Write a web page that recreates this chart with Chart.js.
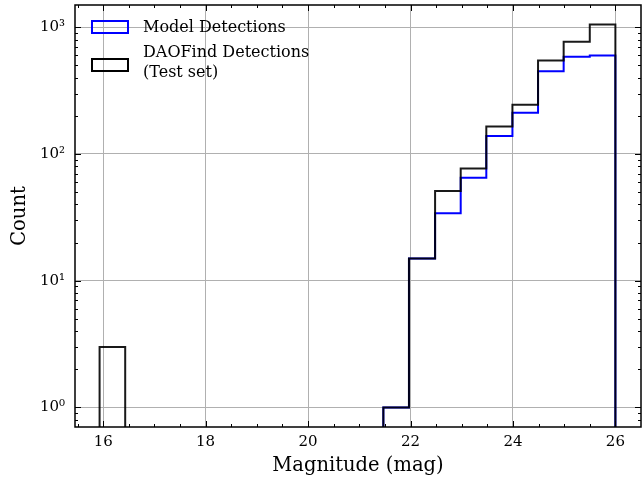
<!DOCTYPE html>
<html>
<head>
<meta charset="utf-8">
<script src="https://cdn.jsdelivr.net/npm/chart.js@4.4.0/dist/chart.umd.min.js"></script>
<style>
  html, body { margin: 0; padding: 0; background: #fff; }
  canvas { display: block; }
</style>
</head>
<body>
<canvas id="chartHist" width="642" height="478"></canvas>
<script>
// ==================== DATOS ====================
const binEdges = [15.93, 16.43, 16.94, 17.44, 17.94, 18.45, 18.95, 19.45, 19.96, 20.46, 20.97,
                  21.47, 21.97, 22.48, 22.98, 23.48, 23.99, 24.49, 24.99, 25.50, 26.00];
const modelCounts = [0, 0, 0, 0, 0, 0, 0, 0, 0, 0, 0, 1, 15, 34, 65, 139, 212, 449, 585, 600];
const daoCounts   = [3, 0, 0, 0, 0, 0, 0, 0, 0, 0, 0, 1, 15, 51, 77, 165, 245, 548, 769, 1054];
const seriesLabels = ['Model Detections', 'DAOFind Detections\n(Test set)'];
const seriesColors = ['#0000ff', 'rgba(0,0,0,0.9)'];
const xTicks = [16, 18, 20, 22, 24, 26];
const yTicks = [1, 10, 100, 1000];
const yTickLabels = ['10⁰', '10¹', '10²', '10³'];

const serif = "'DejaVu Serif', serif";

// contorno de histograma tipo "step"; los ceros quedan bajo el eje
function stepPoints(counts) {
  const floor = 0.1;
  const pts = [{ x: binEdges[0], y: floor }];
  counts.forEach((c, i) => pts.push({ x: binEdges[i], y: c > 0 ? c : floor }));
  pts.push({ x: binEdges[binEdges.length - 1], y: floor });
  return pts;
}

// ==================== MARCO, TICKS Y LEYENDA ====================
const framePlugin = {
  id: 'framePlugin',
  afterDraw(chart) {
    const { ctx, chartArea: a, scales } = chart;
    const x = scales.x, y = scales.y;
    ctx.save();
    ctx.strokeStyle = '#000';
    ctx.lineWidth = 1;
    ctx.beginPath();
    // x ticks (hacia dentro, arriba y abajo)
    for (let v = 15.5; v <= 26.5; v += 0.5) {
      const px = Math.round(x.getPixelForValue(v)) + 0.5;
      if (px < a.left || px > a.right) continue;
      const len = xTicks.includes(v) ? 6 : 3;
      ctx.moveTo(px, a.bottom); ctx.lineTo(px, a.bottom - len);
      ctx.moveTo(px, a.top); ctx.lineTo(px, a.top + len);
    }
    // y ticks
    for (let d = 0.1; d <= 1000; d *= 10) {
      for (let m = 1; m <= 9; m++) {
        const v = m * d;
        const py = Math.round(y.getPixelForValue(v)) + 0.5;
        if (py < a.top || py > a.bottom) continue;
        const len = m === 1 ? 6 : 3;
        ctx.moveTo(a.left, py); ctx.lineTo(a.left + len, py);
        ctx.moveTo(a.right, py); ctx.lineTo(a.right - len, py);
      }
    }
    ctx.stroke();
    ctx.lineWidth = 1.5;
    ctx.strokeRect(a.left, a.top, a.right - a.left, a.bottom - a.top);

    // leyenda
    ctx.font = '16px ' + serif;
    ctx.textBaseline = 'middle';
    ctx.fillStyle = '#000';
    const boxes = [{ top: 21, lines: [28] }, { top: 59, lines: [53, 73] }];
    seriesLabels.forEach((lab, i) => {
      ctx.lineWidth = 2;
      ctx.strokeStyle = i === 0 ? '#0000ff' : '#000';
      ctx.strokeRect(92, boxes[i].top, 36, 12);
      lab.split('\n').forEach((t, j) => ctx.fillText(t, 143, boxes[i].lines[j]));
    });
    ctx.restore();
  }
};

document.addEventListener('DOMContentLoaded', function() {
  const ctx = document.getElementById('chartHist').getContext('2d');

  new Chart(ctx, {
    type: 'line',
    data: {
      datasets: [{
        label: seriesLabels[0],
        data: stepPoints(modelCounts),
        borderColor: seriesColors[0],
        borderWidth: 2,
        stepped: 'before',
        pointRadius: 0,
        fill: false,
        order: 2
      }, {
        label: seriesLabels[1],
        data: stepPoints(daoCounts),
        borderColor: seriesColors[1],
        borderWidth: 2,
        stepped: 'before',
        pointRadius: 0,
        fill: false,
        order: 1
      }]
    },
    options: {
      responsive: false,
      animation: false,
      events: [],
      layout: { padding: { top: 5, right: 1, left: 0, bottom: 0 } },
      plugins: { legend: { display: false }, tooltip: { enabled: false } },
      scales: {
        x: {
          type: 'linear',
          min: 15.45,
          max: 26.5,
          afterBuildTicks: s => { s.ticks = xTicks.map(v => ({ value: v })); },
          afterFit: s => { s.height = 51; s.paddingLeft = 0; s.paddingRight = 0; },
          grid: { color: '#b0b0b0', lineWidth: 1, drawTicks: false },
          border: { display: false },
          ticks: {
            color: '#000', padding: 6, maxRotation: 0, autoSkip: false,
            font: { family: serif, size: 15 },
            callback: v => String(v)
          },
          title: {
            display: true, text: 'Magnitude (mag)', color: '#000',
            font: { family: serif, size: 19.5 }, padding: { top: 0, bottom: 0 }
          }
        },
        y: {
          type: 'logarithmic',
          min: 0.7,
          max: 1500,
          afterBuildTicks: s => { s.ticks = yTicks.map(v => ({ value: v })); },
          afterFit: s => { s.width = 75; s.paddingTop = 0; s.paddingBottom = 0; },
          grid: { color: '#b0b0b0', lineWidth: 1, drawTicks: false },
          border: { display: false },
          ticks: {
            color: '#000', padding: 10, autoSkip: false,
            font: { family: serif, size: 15 },
            callback: v => yTickLabels[yTicks.indexOf(v)]
          },
          title: {
            display: true, text: 'Count', color: '#000',
            font: { family: serif, size: 19.5 }, padding: { top: 8, bottom: 0 }
          }
        }
      }
    },
    plugins: [framePlugin]
  });
});
</script>
</body>
</html>
